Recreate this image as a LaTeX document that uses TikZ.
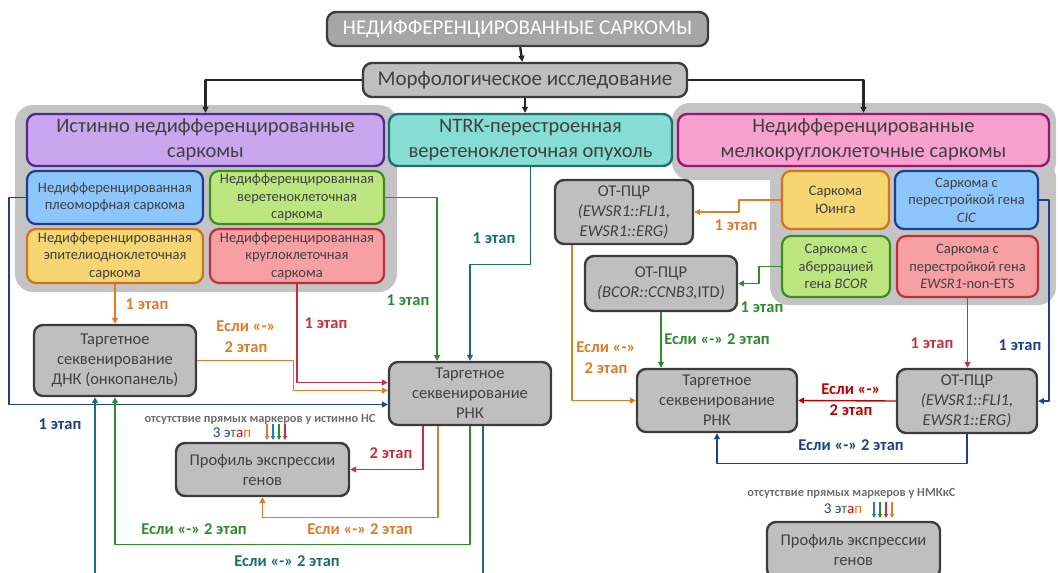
\documentclass[tikz,border=0pt]{standalone}
\usepackage{fontspec}
\setmainfont{Carlito}
\usetikzlibrary{arrows.meta}
\definecolor{txtgray}{HTML}{404040}
\definecolor{notegray}{HTML}{6E6E6E}
\definecolor{brdgray}{HTML}{3C3C3C}
\definecolor{procgray}{HTML}{BFBFBF}
\definecolor{grpgray}{HTML}{C4C4C4}
\definecolor{topgray}{HTML}{A6A6A6}
\definecolor{blk}{HTML}{262626}
\definecolor{purplefill}{HTML}{C9A6EE}
\definecolor{purplebrd}{HTML}{4E2D8E}
\definecolor{tealfill}{HTML}{86DDD3}
\definecolor{tealbrd}{HTML}{1E6F72}
\definecolor{pinkfill}{HTML}{F7A1CF}
\definecolor{pinkbrd}{HTML}{9B1473}
\definecolor{bluefill}{HTML}{8CC6FA}
\definecolor{bluebrd}{HTML}{1D3E8E}
\definecolor{greenfill}{HTML}{BEE680}
\definecolor{greenbrd}{HTML}{3C8C1F}
\definecolor{yelfill}{HTML}{F5D673}
\definecolor{yelbrd}{HTML}{D5721B}
\definecolor{redfill}{HTML}{F7A0A4}
\definecolor{redbrd}{HTML}{BF2F3B}
\definecolor{orangeL}{HTML}{E07B2A}
\definecolor{redL}{HTML}{C8303C}
\definecolor{brightred}{HTML}{C00000}
\definecolor{greenL}{HTML}{2E8B2E}
\definecolor{tealL}{HTML}{1E6E70}
\definecolor{blueL}{HTML}{1F3F8F}
\definecolor{skyL}{HTML}{1F7AD8}
\begin{document}
\begin{tikzpicture}[x=1pt,y=-1pt,>={Triangle[length=6pt,width=6pt]},line join=round,
  text=txtgray,
  box/.style={draw,rounded corners=9pt,line width=2.4pt,align=center,inner sep=0pt},
  proc/.style={box,draw=brdgray,fill=procgray,font=\fontsize{16.5}{20}\selectfont},
  head/.style={box,font=\fontsize{20.5}{25}\selectfont},
  sub/.style={box,line width=2.2pt,font=\fontsize{14.5}{17.5}\selectfont},
  link/.style={line width=1.4pt,->},
  lbl/.style={font=\bfseries\fontsize{16.5}{21}\selectfont,align=center},
  note/.style={font=\bfseries\fontsize{12.4}{14}\selectfont,text=notegray}]
\useasboundingbox (0,0) rectangle (1058,573);
% gray groups
\fill[grpgray,rounded corners=18pt] (15,105) rectangle (397,292);
\fill[grpgray,rounded corners=18pt] (672,103) rectangle (1056,180);
\fill[grpgray,rounded corners=18pt] (770,160) rectangle (1056,305);

% top
\node[proc,fill=topgray,text=white,minimum width=381,minimum height=34,font=\fontsize{21}{24}\selectfont] (root) at (517.5,29) {НЕДИФФЕРЕНЦИРОВАННЫЕ САРКОМЫ};
\node[proc,minimum width=324,minimum height=34,font=\fontsize{21}{24}\selectfont] (morph) at (525,80) {Морфологическое исследование};

% three groups
\node[head,fill=purplefill,draw=purplebrd,minimum width=357,minimum height=52] (istin) at (205.5,140) {Истинно недифференцированные\\саркомы};
\node[head,fill=tealfill,draw=tealbrd,minimum width=283,minimum height=52] (ntrk) at (530.5,140) {NTRK-перестроенная\\веретеноклеточная опухоль};
\node[head,fill=pinkfill,draw=pinkbrd,minimum width=371,minimum height=52] (nmk) at (863.5,140) {Недифференцированные\\мелкокруглоклеточные саркомы};

% left sub types
\node[sub,fill=bluefill,draw=bluebrd,minimum width=176,minimum height=53] (pleo) at (115,197.5) {Недифференцированная\\плеоморфная саркома};
\node[sub,fill=greenfill,draw=greenbrd,minimum width=174,minimum height=53] (vere) at (297,197.5) {Недифференцированная\\веретеноклеточная\\саркома};
\node[sub,fill=yelfill,draw=yelbrd,minimum width=176,minimum height=54] (epit) at (115,256) {Недифференцированная\\эпителиодноклеточная\\саркома};
\node[sub,fill=redfill,draw=redbrd,minimum width=174,minimum height=54] (krug) at (297,256) {Недифференцированная\\круглоклеточная\\саркома};

% right sub types
\node[sub,fill=yelfill,draw=yelbrd,minimum width=107,minimum height=58] (ewing) at (835.5,200) {Саркома\\Юинга};
\node[sub,fill=bluefill,draw=bluebrd,minimum width=143,minimum height=58] (cic) at (966.5,200) {Саркома с\\перестройкой гена\\\textit{CIC}};
\node[sub,fill=greenfill,draw=greenbrd,minimum width=108,minimum height=61] (bcor) at (836,266.5) {Саркома с\\аберрацией\\гена \textit{BCOR}};
\node[sub,fill=redfill,draw=redbrd,minimum width=141,minimum height=61] (ewsr) at (967.5,266.5) {Саркома с\\перестройкой гена\\\textit{EWSR1}-non-ETS};

% methods
\node[proc,minimum width=162,minimum height=71] (dna) at (115,360.5) {Таргетное\\секвенирование\\ДНК (онкопанель)};
\node[proc,minimum width=162,minimum height=63] (rnaM) at (470,393.5) {Таргетное\\секвенирование\\РНК};
\node[proc,minimum width=173,minimum height=53] (prof1) at (262.5,469.5) {Профиль экспрессии\\генов};
\node[proc,minimum width=138,minimum height=64] (pcr1) at (624,212) {ОТ-ПЦР\\\textit{(EWSR1::FLI1,}\\\textit{EWSR1::ERG)}};
\node[proc,minimum width=152,minimum height=55] (pcr2) at (661,283.5) {ОТ-ПЦР\\\textit{(BCOR::CCNB3,}ITD\textit{)}};
\node[proc,minimum width=160,minimum height=63] (rnaR) at (717,400.5) {Таргетное\\секвенирование\\РНК};
\node[proc,minimum width=140,minimum height=64] (pcr3) at (967,401) {ОТ-ПЦР\\\textit{(EWSR1::FLI1,}\\\textit{EWSR1::ERG)}};
\node[proc,minimum width=173,minimum height=56] (prof2) at (853.5,550) {Профиль экспрессии\\генов};

% morphology
\draw[->,blk,line width=2.4pt] (root) -- (morph);
\draw[->,blk,line width=2.4pt] (morph.west) -| (istin.north);
\draw[->,blk,line width=2.4pt] (morph.south) -- (morph.south |- ntrk.north);
\draw[->,blk,line width=2.4pt] (morph.east) -| (nmk.north);

% left branch
\draw[link,blueL] (pleo.west) -- ++(-17,0) |- ([yshift=-11pt]rnaM.west);
\draw[link,orangeL] (epit.south) -- (dna.north);
\draw[link,redL] (krug.south) |- ([yshift=11pt]rnaM.west);
\draw[link,greenL] (vere.east) -| ([xshift=-33pt]rnaM.north);
\draw[link,tealL] (ntrk.south) -- ++(0,97) -| (rnaM.north);
\draw[link,orangeL] (dna.east) -- ++(96,0) |- ([yshift=3pt]rnaM.west);
\draw[link,redL] ([xshift=-47pt]rnaM.south) |- (prof1.east);
\draw[link,orangeL] ([xshift=-32pt]rnaM.south) -- ++(0,91) -| (prof1.south);
\draw[link,greenL] (rnaM.south) -- ++(0,118) -| (dna.south);
\draw[link,tealL] ([xshift=13pt]rnaM.south) -- ++(0,165) -| ([xshift=-20pt]dna.south);

% right branch
\draw[link,orangeL] (ewing.west) -- ++(-42,0) |- (pcr1.east);
\draw[link,greenL] (bcor.west) -- ++(-22,0) |- (pcr2.east);
\draw[link,orangeL] ([xshift=-52pt]pcr1.south) |- (rnaR.west);
\draw[link,greenL] (pcr2.south) -- (pcr2.south |- rnaR.north);
\draw[link,redL] (ewsr.south) -- (ewsr.south |- pcr3.north);
\draw[link,blueL] (cic.east) -- ++(10,0) |- (pcr3.east);
\draw[link,brightred] (pcr3.west) -- (rnaR.east);
\draw[link,blueL] (pcr3.south) -- ++(0,29) -| (rnaR.south);

% labels
\node[lbl,text=blueL] (l1) at (60,424) {1 этап};
\node[lbl,text=orangeL] (l2) at (147,304) {1 этап};
\node[lbl,text=orangeL] (l3) at (246,337) {Если «-»\\2 этап};
\node[lbl,text=redL] (l4) at (326,323) {1 этап};
\node[lbl,text=greenL] (l5) at (408,300) {1 этап};
\node[lbl,text=tealL] (l6) at (494,238) {1 этап};
\node[lbl,text=redL] (l7) at (391,453) {2 этап};
\node[lbl,text=orangeL] (l8) at (360,529) {Если «-» 2 этап};
\node[lbl,text=greenL] (l9) at (194,529) {Если «-» 2 этап};
\node[lbl,text=tealL] (l10) at (287,561) {Если «-» 2 этап};
\node[lbl,text=orangeL] (r1) at (736,225) {1 этап};
\node[lbl,text=greenL] (r2) at (762,307) {1 этап};
\node[lbl,text=orangeL] (r3) at (606,358) {Если «-»\\2 этап};
\node[lbl,text=greenL] (r4) at (717,339) {Если «-» 2 этап};
\node[lbl,text=redL] (r5) at (932,343) {1 этап};
\node[lbl,text=blueL] (r6) at (1020,345) {1 этап};
\node[lbl,text=brightred] (r7) at (851,400) {Если «-»\\2 этап};
\node[lbl,text=blueL] (r8) at (851,445) {Если «-» 2 этап};

% stage 3 notes
\node[note] (n1) at (260,419) {отсутствие прямых маркеров у истинно НС};
\node[font=\fontsize{15}{18}\selectfont] (s1) at (232,433) {\textcolor{blueL}{3 э}\textcolor{greenL}{т}\textcolor{red}{а}\textcolor{orangeL}{п}};
\foreach \x/\c in {267/orangeL,273/skyL,279/greenL,285/redL}
  \draw[-{Triangle[length=4pt,width=4pt]},line width=1.2pt,\c] (\x,424) -- (\x,440);
\node[note] (n2) at (851.5,493) {отсутствие прямых маркеров у НМКкС};
\node[font=\fontsize{15}{18}\selectfont] (s2) at (843,509) {\textcolor{blueL}{3 э}\textcolor{greenL}{т}\textcolor{red}{а}\textcolor{orangeL}{п}};
\foreach \x/\c in {874/skyL,880/greenL,886/redL,892/orangeL}
  \draw[-{Triangle[length=4pt,width=4pt]},line width=1.2pt,\c] (\x,502) -- (\x,518);
\end{tikzpicture}
\end{document}
